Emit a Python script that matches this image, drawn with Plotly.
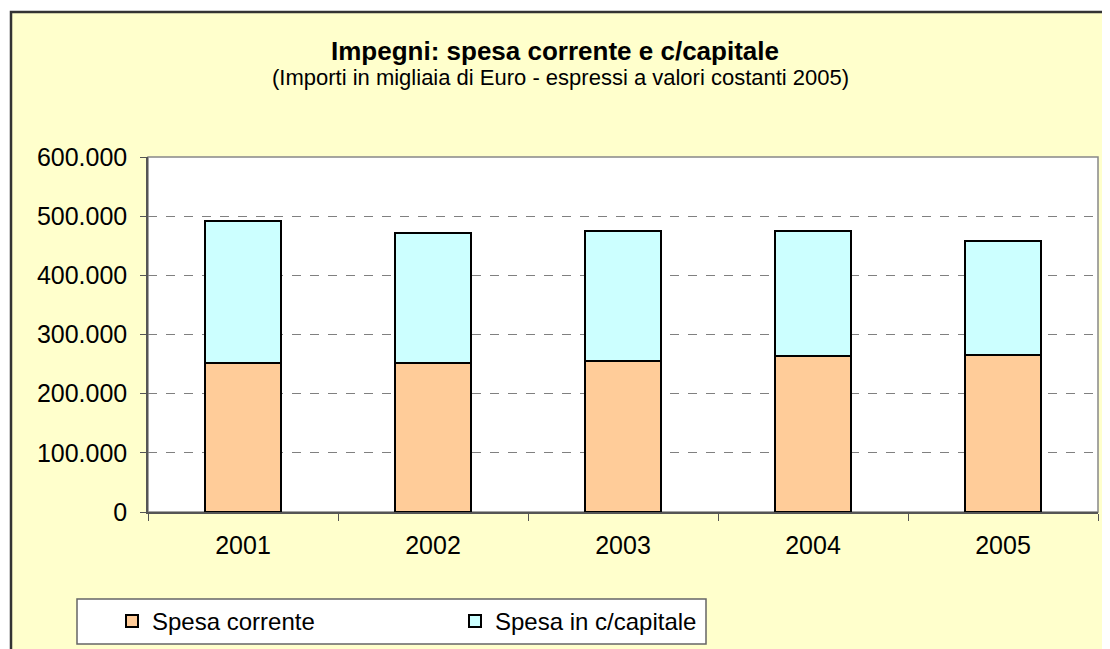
import plotly.graph_objects as go

# ── Data (thousands of euro, constant 2005 values) ────────────────────────────
anni = ["2001", "2002", "2003", "2004", "2005"]
spesa_corrente = [252000, 252000, 256000, 263000, 266000]
spesa_capitale = [240000, 219500, 219000, 212000, 192500]

COL_CORRENTE = "#FFCC99"
COL_CAPITALE = "#CCFFFF"
BG_CHART = "#FFFFCC"
FONT = "Arial, Liberation Sans, sans-serif"

# the page body adds an 8px margin, so the figure is shifted by OFF
OFF = 8
W, H = 1110 - OFF, 649 - OFF
# plot area on the page: x 148..1098, y 157..512
L, R = 148 - OFF, W - (1098 - OFF)
T, B = 157 - OFF, H - (512 - OFF)
PW, PH = W - L - R, H - T - B


def px_x(px):
    """page pixel x -> paper coordinate"""
    return (px - OFF - L) / PW


def px_y(py):
    """page pixel y -> paper coordinate"""
    return (H - B - (py - OFF)) / PH


fig = go.Figure()

fig.add_trace(
    go.Bar(
        x=anni,
        y=spesa_corrente,
        name="Spesa corrente",
        marker={"color": COL_CORRENTE, "line": {"color": "#000000", "width": 2}},
        width=0.405,
    )
)
fig.add_trace(
    go.Bar(
        x=anni,
        y=spesa_capitale,
        name="Spesa in c/capitale",
        marker={"color": COL_CAPITALE, "line": {"color": "#000000", "width": 2}},
        width=0.405,
    )
)

# chart background with dark frame
fig.add_shape(
    type="rect", xref="paper", yref="paper", layer="below",
    x0=px_x(11), x1=px_x(1125), y0=px_y(665), y1=px_y(12),
    fillcolor=BG_CHART, line={"color": "#333333", "width": 2.5},
)
# white plot area with grey frame
fig.add_shape(
    type="rect", xref="paper", yref="paper", layer="below",
    x0=0, x1=1, y0=0, y1=1,
    fillcolor="#FFFFFF", line={"color": "#888888", "width": 1.5},
)
# legend box
fig.add_shape(
    type="rect", xref="paper", yref="paper", layer="below",
    x0=px_x(77), x1=px_x(706), y0=px_y(644), y1=px_y(599),
    fillcolor="#FFFFFF", line={"color": "#666666", "width": 1.5},
)

# titles
fig.add_annotation(
    text="<b>Impegni: spesa corrente e c/capitale</b>",
    xref="paper", yref="paper", x=px_x(555), y=px_y(51),
    xanchor="center", yanchor="middle",
    showarrow=False, font={"size": 26, "color": "#000000", "family": FONT},
)
fig.add_annotation(
    text="(Importi in migliaia di Euro - espressi a valori costanti 2005)",
    xref="paper", yref="paper", x=px_x(560), y=px_y(77),
    xanchor="center", yanchor="middle",
    showarrow=False, font={"size": 22, "color": "#000000", "family": FONT},
)

fig.update_layout(
    width=W,
    height=H,
    barmode="stack",
    separators=",.",
    margin={"l": L, "r": R, "t": T, "b": B, "autoexpand": False},
    paper_bgcolor="#FFFFFF",
    plot_bgcolor="rgba(0,0,0,0)",
    font={"family": FONT, "size": 25, "color": "#000000"},
    legend={
        "orientation": "h",
        "x": px_x(112),
        "xanchor": "left",
        "y": px_y(599),
        "yanchor": "top",
        "bgcolor": "rgba(0,0,0,0)",
        "borderwidth": 0,
        "font": {"size": 24},
        "traceorder": "normal",
        "entrywidth": 298,
    },
    xaxis={
        "type": "category",
        "showgrid": False,
        "showline": True,
        "linecolor": "#555555",
        "linewidth": 1.5,
        "ticks": "outside",
        "tickson": "boundaries",
        "ticklen": 7,
        "tickcolor": "#555555",
        "tickfont": {"size": 25},
        "ticklabelstandoff": 10,
    },
    yaxis={
        "range": [0, 600000],
        "dtick": 100000,
        "tickformat": ",d",
        "showgrid": True,
        "gridcolor": "#808080",
        "griddash": "dash",
        "gridwidth": 1,
        "zeroline": False,
        "showline": True,
        "linecolor": "#555555",
        "linewidth": 1.5,
        "ticks": "outside",
        "ticklen": 6,
        "tickcolor": "#555555",
        "tickfont": {"size": 25},
        "ticklabelstandoff": 8,
    },
)

fig.write_html("out.html")
